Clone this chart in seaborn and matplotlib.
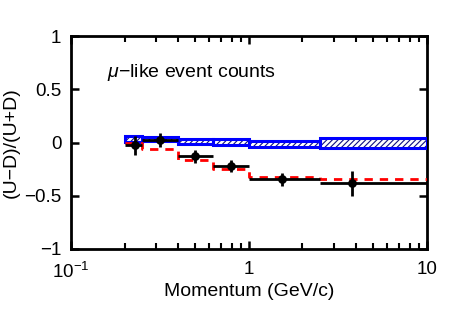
import numpy as np
import pandas as pd
import matplotlib
matplotlib.use("Agg")
import matplotlib.pyplot as plt
import seaborn as sns

# Bin edges (GeV/c)
bin_edges = [0.2, 0.25, 0.4, 0.63, 1.0, 2.5, 10.0]
# Data points
data_x = [0.229, 0.316, 0.50, 0.79, 1.53, 3.79]
data_y = [-0.025, 0.02, -0.13, -0.22, -0.345, -0.385]
data_err = [0.09, 0.065, 0.06, 0.06, 0.06, 0.12]
# MC with oscillation (red dashed)
osc_y = [0.0, -0.065, -0.165, -0.25, -0.325, -0.34]
# No-oscillation expectation band (blue hatched)
noosc_center = [0.035, 0.03, 0.01, 0.008, -0.01, -0.003]
noosc_half = [0.03, 0.02, 0.023, 0.027, 0.028, 0.047]

sns.set_theme(style="ticks")
plt.rcParams["font.family"] = ["Liberation Sans", "DejaVu Sans"]
plt.rcParams["mathtext.fontset"] = "custom"
plt.rcParams["mathtext.rm"] = "Liberation Sans"
plt.rcParams["mathtext.it"] = "Liberation Sans:italic"
plt.rcParams["text.color"] = "black"
plt.rcParams["axes.labelcolor"] = "black"
plt.rcParams["xtick.color"] = "black"
plt.rcParams["ytick.color"] = "black"
plt.rcParams["hatch.linewidth"] = 0.8

fig = plt.figure(figsize=(4.58, 3.28), dpi=100)
ax = fig.add_axes([0.155, 0.241, 0.777, 0.649])
ax.set_xscale("log")

lefts = np.array(bin_edges[:-1])
widths = np.diff(bin_edges)
lo = np.array(noosc_center) - np.array(noosc_half)
hh = 2 * np.array(noosc_half)
ax.bar(lefts, hh, width=widths, bottom=lo, align="edge", facecolor="white",
       edgecolor="#101080", hatch="//////", linewidth=0, zorder=2)
ax.bar(lefts, hh, width=widths, bottom=lo, align="edge", facecolor="none",
       edgecolor="#0000ff", linewidth=2.2, zorder=3)

# red dashed step line
step_df = pd.DataFrame({"x": bin_edges, "y": osc_y + [osc_y[-1]]})
sns.lineplot(data=step_df, x="x", y="y", ax=ax, drawstyle="steps-post",
             color="#ff0000", linestyle=(0, (3, 2.5)), linewidth=2, zorder=4)

# data with errors
xerr_lo = np.array(data_x) - lefts
xerr_hi = np.array(bin_edges[1:]) - np.array(data_x)
ax.errorbar(data_x, data_y, yerr=data_err, xerr=[xerr_lo, xerr_hi], fmt="none",
            ecolor="black", elinewidth=2, capsize=0, zorder=5)
pts = pd.DataFrame({"x": data_x, "y": data_y})
sns.scatterplot(data=pts, x="x", y="y", ax=ax, color="black", s=40,
                edgecolor="black", linewidth=0, zorder=6)

ax.set_xlim(0.1, 10)
ax.set_ylim(-1, 1)
ax.set_yticks([-1, -0.5, 0, 0.5, 1])
ax.set_yticklabels(["\u22121", "\u22120.5", "0", "0.5", "1"])
ax.set_xticks([0.1, 1, 10])
ax.set_xticklabels(["10$^{\\mathregular{\u22121}}$", "1", "10"])
ax.tick_params(which="both", direction="in", top=True, right=True,
               labelsize=13.5, colors="black")
ax.tick_params(which="major", length=6, width=1.8, pad=7)
ax.tick_params(axis="x", which="major", pad=9)
ax.tick_params(which="minor", length=4, width=1.5)
ax.tick_params(axis="y", which="minor", left=False, right=False)
for s in ax.spines.values():
    s.set_linewidth(2)
    s.set_color("black")
ax.set_xlabel("Momentum (GeV/c)", fontsize=14, labelpad=1)
ax.set_ylabel("(U\u2212D)/(U+D)", fontsize=14, labelpad=3)
ax.text(0.1, 0.83, "$\\mathit{\\mu}$\u2212like event counts",
        transform=ax.transAxes, fontsize=14, va="center", ha="left")
ax.grid(False)

fig.savefig("out.png", dpi=100)
